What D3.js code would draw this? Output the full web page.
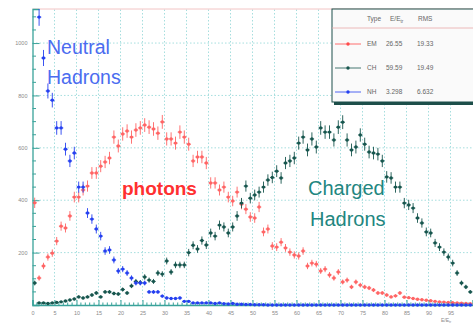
<!DOCTYPE html>
<html>
<head>
<meta charset="utf-8">
<script src="https://cdn.jsdelivr.net/npm/d3@7"></script>
<style>
  body { margin: 0; background: #fff; }
  svg { display: block; font-family: "Liberation Sans", Arial, sans-serif; }
</style>
</head>
<body>
<div id="chart"></div>
<script>
// E/E_tr histograms, 100 bins of width 1
const binCount = 100;

const emCounts = [
  390, 103, 149, 183, 198, 244, 301, 294, 340, 412,
  412, 439, 454, 504, 504, 530, 546, 561, 641, 607,
  653, 664, 641, 668, 676, 687, 679, 672, 656, 699,
  634, 634, 618, 660, 641, 614, 550, 565, 565, 542,
  466, 466, 439, 450, 412, 397, 431, 385, 366, 336,
  332, 374, 279, 290, 225, 221, 240, 218, 202, 191,
  187, 206, 149, 160, 156, 130, 137, 115, 103, 126,
  88, 95, 69, 88, 76, 69, 65, 57, 46, 46,
  38, 31, 35, 46, 30, 28, 25, 22, 20, 18,
  16, 14, 12, 11, 10, 9, 8, 7, 6, 5
];

const chCounts = [
  84, 8, 8, 6, 8, 10, 12, 15, 19, 23,
  31, 27, 31, 38, 46, 31, 50, 50, 44, 42,
  59, 46, 73, 90, 86, 107, 95, 90, 122, 118,
  168, 126, 153, 153, 153, 200, 228, 214, 246, 229,
  275, 263, 305, 298, 275, 298, 340, 389, 454, 408,
  420, 431, 450, 477, 487, 511, 485, 542, 550, 561,
  618, 641, 592, 634, 603, 676, 660, 660, 630, 679,
  698, 630, 592, 603, 649, 614, 584, 580, 576, 550,
  489, 485, 450, 450, 389, 382, 370, 332, 313, 279,
  275, 237, 221, 202, 183, 160, 122, 84, 69, 50
];

const nhCounts = [
  1250, 1099, 943, 817, 782, 676, 676, 595, 550, 580,
  450, 450, 351, 328, 290, 263, 206, 210, 172, 130,
  137, 122, 103, 84, 84, 84, 50, 50, 50, 34,
  27, 25, 25, 27, 14, 14, 8, 8, 8, 8,
  8, 6, 8, 5, 4, 6, 3, 3, 2, 2,
  1, 1, 1, 0, 0, 0, 0, 0, 0, 0,
  0, 0, 0, 0, 0, 0, 0, 0, 0, 0,
  0, 0, 0, 0, 0, 0, 0, 0, 0, 0,
  0, 0, 0, 0, 0, 0, 0, 0, 0, 0,
  0, 0, 0, 0, 0, 0, 0, 0, 0, 0
];

const seriesNames = ["EM", "CH", "NH"];
const seriesMeans = ["26.55", "59.59", "3.298"];
const seriesRms = ["19.33", "19.49", "6.632"];
const seriesColors = ["#ff4a4a", "#17564e", "#2540f0"];

const xTicks = d3.range(0, 100, 5);
const yTicks = [200, 400, 600, 800, 1000];

const width = 473, height = 323;
const margin = {top: 9, right: 0, bottom: 18, left: 32.5};

const svg = d3.select("#chart").append("svg")
  .attr("width", width)
  .attr("height", height);

const x = d3.scaleLinear().domain([0, 100]).range([margin.left, 472.5]);
const y = d3.scaleLinear().domain([0, 1130]).range([height - margin.bottom, margin.top]);

// grid
svg.append("g")
    .attr("stroke", "#8fd6d6")
    .attr("stroke-width", 0.8)
    .attr("stroke-dasharray", "1.5,2")
  .selectAll("line")
  .data(xTicks.filter(d => d > 0))
  .join("line")
    .attr("x1", d => x(d)).attr("x2", d => x(d))
    .attr("y1", y(0)).attr("y2", margin.top);

svg.append("g")
    .attr("stroke", "#8fd6d6")
    .attr("stroke-width", 0.8)
    .attr("stroke-dasharray", "1.5,2")
  .selectAll("line")
  .data(yTicks)
  .join("line")
    .attr("x1", x(0)).attr("x2", width)
    .attr("y1", d => y(d)).attr("y2", d => y(d));

// top frame
svg.append("line")
  .attr("x1", x(0)).attr("x2", width)
  .attr("y1", margin.top).attr("y2", margin.top)
  .attr("stroke", "#f2c4c4").attr("stroke-width", 1);

// axes (ROOT style: ticks inside)
const xAxis = g => g
  .attr("transform", `translate(0,${y(0)})`)
  .call(d3.axisBottom(x).tickValues(xTicks).tickSize(-5).tickPadding(6).tickFormat(d3.format("d")))
  .call(g => g.select(".domain").attr("stroke", "#3aa39a").attr("stroke-width", 1.3))
  .call(g => g.selectAll(".tick line").attr("stroke", "#3aa39a"))
  .call(g => g.selectAll(".tick text").attr("fill", "#8a8a8a").style("font-size", "5.5px"));

const yAxis = g => g
  .attr("transform", `translate(${x(0)},0)`)
  .call(d3.axisLeft(y).tickValues(yTicks).tickSize(-7).tickPadding(5).tickFormat(d3.format("d")))
  .call(g => g.select(".domain").attr("stroke", "#3aa39a").attr("stroke-width", 1.3))
  .call(g => g.selectAll(".tick line").attr("stroke", "#3aa39a"))
  .call(g => g.selectAll(".tick text").attr("fill", "#8a8a8a").style("font-size", "5.5px"));

// minor ticks
svg.append("g")
    .attr("stroke", "#3aa39a")
  .selectAll("line")
  .data(d3.range(50, 1130, 50).filter(d => d % 200 !== 0))
  .join("line")
    .attr("x1", x(0)).attr("x2", x(0) + 3.5)
    .attr("y1", d => y(d)).attr("y2", d => y(d));

svg.append("g")
    .attr("stroke", "#3aa39a")
  .selectAll("line")
  .data(d3.range(1, 100).filter(d => d % 5 !== 0))
  .join("line")
    .attr("x1", d => x(d)).attr("x2", d => x(d))
    .attr("y1", y(0)).attr("y2", y(0) - 2.5);

svg.append("g").call(xAxis);
svg.append("g").call(yAxis);

const xTitle = svg.append("text")
  .attr("x", 441).attr("y", 321.5)
  .attr("fill", "#8a8a8a")
  .style("font-size", "5px")
  .text("E/E");
xTitle.append("tspan").attr("dy", 1).style("font-size", "3.5px").text("tr");

// data points
svg.append("clipPath").attr("id", "frame")
  .append("rect")
  .attr("x", x(0)).attr("y", margin.top)
  .attr("width", width - x(0)).attr("height", y(0) - margin.top + 2);

const allSeries = [emCounts, chCounts, nhCounts];

allSeries.forEach((counts, si) => {
  const color = seriesColors[si];
  const pts = counts.map((c, i) => ({bin: i + 0.5, c}));
  const g = svg.append("g")
    .attr("clip-path", "url(#frame)")
    .attr("opacity", si === 0 ? 0.85 : 1);

  g.selectAll("line.ey")
    .data(pts)
    .join("line")
      .attr("class", "ey")
      .attr("x1", d => x(d.bin)).attr("x2", d => x(d.bin))
      .attr("y1", d => y(d.c + Math.sqrt(d.c)))
      .attr("y2", d => y(d.c - Math.sqrt(d.c)))
      .attr("stroke", color).attr("stroke-width", 0.9);

  g.selectAll("line.ex")
    .data(pts)
    .join("line")
      .attr("class", "ex")
      .attr("x1", d => x(d.bin - 0.5)).attr("x2", d => x(d.bin + 0.5))
      .attr("y1", d => y(d.c)).attr("y2", d => y(d.c))
      .attr("stroke", color).attr("stroke-width", 0.9);

  g.selectAll("circle")
    .data(pts)
    .join("circle")
      .attr("cx", d => x(d.bin))
      .attr("cy", d => y(d.c))
      .attr("r", 1.7)
      .attr("fill", color);
});

// annotations
svg.append("text")
  .attr("x", 47).attr("y", 54)
  .attr("fill", "#4a6cf0")
  .style("font-size", "19.5px")
  .text("Neutral");
svg.append("text")
  .attr("x", 47).attr("y", 84)
  .attr("fill", "#4a6cf0")
  .style("font-size", "19.5px")
  .text("Hadrons");

svg.append("text")
  .attr("x", 122).attr("y", 195)
  .attr("fill", "#ff3030")
  .style("font-size", "19px")
  .style("font-weight", "bold")
  .text("photons");

svg.append("text")
  .attr("x", 308).attr("y", 195)
  .attr("fill", "#228680")
  .style("font-size", "20px")
  .text("Charged");
svg.append("text")
  .attr("x", 310).attr("y", 226)
  .attr("fill", "#228680")
  .style("font-size", "20px")
  .text("Hadrons");

// legend box
const legend = svg.append("g").attr("transform", "translate(332,9)");
legend.append("rect")
  .attr("x", 2).attr("y", 2)
  .attr("width", 150).attr("height", 94)
  .attr("fill", "#1d4f4a");
legend.append("rect")
  .attr("width", 150).attr("height", 93)
  .attr("fill", "#fafafa")
  .attr("stroke", "#1d4f4a").attr("stroke-width", 1);
legend.append("line")
  .attr("x1", 0).attr("x2", 150)
  .attr("y1", 19).attr("y2", 19)
  .attr("stroke", "#e8a8a8").attr("stroke-width", 0.8);

const head = legend.append("text")
  .attr("y", 12)
  .attr("fill", "#666")
  .style("font-size", "6.5px");
head.append("tspan").attr("x", 35).text("Type");
head.append("tspan").attr("x", 58).text("E/E");
head.append("tspan").attr("dy", 1.5).style("font-size", "4.5px").text("tr");
head.append("tspan").attr("x", 86).attr("dy", -1.5).text("RMS");

const rows = legend.selectAll("g.row")
  .data(seriesNames.map((n, i) => ({n, i})))
  .join("g")
    .attr("class", "row")
    .attr("transform", d => `translate(0,${35 + d.i * 24})`);

rows.append("line")
  .attr("x1", 3).attr("x2", 29)
  .attr("stroke", d => seriesColors[d.i]).attr("stroke-width", 0.8);
rows.append("circle")
  .attr("cx", 16).attr("r", 1.7)
  .attr("fill", d => seriesColors[d.i]);
rows.append("text")
  .attr("x", 35).attr("dy", "0.35em")
  .attr("fill", "#666").style("font-size", "6.5px")
  .text(d => d.n);
rows.append("text")
  .attr("x", 54).attr("dy", "0.35em")
  .attr("fill", "#666").style("font-size", "6.5px")
  .text(d => seriesMeans[d.i]);
rows.append("text")
  .attr("x", 85).attr("dy", "0.35em")
  .attr("fill", "#666").style("font-size", "6.5px")
  .text(d => seriesRms[d.i]);
</script>
</body>
</html>
